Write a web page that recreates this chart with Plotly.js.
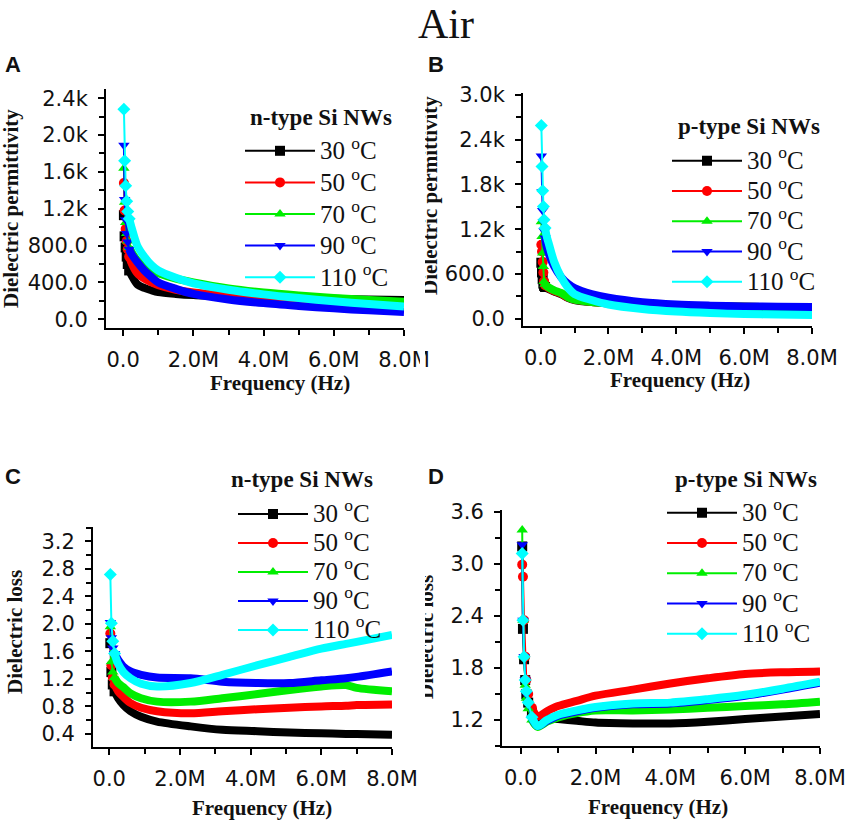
<!DOCTYPE html>
<html>
<head>
<meta charset="utf-8">
<script src="https://cdn.plot.ly/plotly-3.0.1.min.js"></script>
<style>html,body{margin:0;padding:0;background:#fff;}#chart{width:851px;height:823px;}</style>
</head>
<body>
<div id="chart"></div>
<script>
// ---------- data (frequency in Hz) ----------
const seriesNames = ['30 <sup>o</sup>C', '50 <sup>o</sup>C', '70 <sup>o</sup>C', '90 <sup>o</sup>C', '110 <sup>o</sup>C'];
const legendTitles = ['n-type Si NWs', 'p-type Si NWs', 'n-type Si NWs', 'p-type Si NWs'];

// Panel A: n-type, dielectric permittivity
const freqA = [0.02e6, 0.04e6, 0.07e6, 0.1e6, 0.13e6, 0.17e6, 0.25e6, 0.4e6, 0.6e6, 0.8e6, 1.0e6, 1.5e6, 2e6, 3e6, 4e6, 5e6, 6e6, 7e6, 8e6];
const permA_30  = [1130, 900, 780, 680, 600, 530, 470, 380, 340, 315, 295, 275, 262, 248, 238, 230, 222, 215, 210];
const permA_50  = [1480, 1180, 980, 850, 760, 680, 600, 500, 440, 400, 370, 320, 290, 255, 235, 215, 200, 190, 180];
const permA_70  = [1640, 1270, 1050, 930, 850, 780, 720, 640, 570, 530, 500, 440, 400, 335, 290, 258, 232, 210, 190];
const permA_90  = [1890, 1300, 1080, 930, 840, 760, 700, 620, 530, 460, 400, 330, 275, 215, 175, 145, 118, 97, 80];
const permA_110 = [2280, 1720, 1450, 1280, 1170, 1090, 980, 800, 680, 590, 530, 450, 390, 320, 270, 230, 195, 165, 138];

// Panel B: p-type, dielectric permittivity
const freqB = [0.02e6, 0.04e6, 0.06e6, 0.08e6, 0.1e6, 0.13e6, 0.17e6, 0.25e6, 0.4e6, 0.6e6, 0.8e6, 1.0e6, 1.5e6, 2e6, 3e6, 4e6, 5e6, 6e6, 7e6, 8e6];
const permB_30  = [750, 620, 530, 470, 440, 425, 410, 395, 365, 330, 280, 250, 222, 205, 183, 171, 164, 159, 156, 154];
const permB_50  = [990, 900, 760, 620, 500, 450, 430, 405, 370, 335, 285, 255, 225, 208, 185, 172, 165, 160, 157, 155];
const permB_70  = [1300, 1100, 880, 700, 500, 460, 440, 415, 380, 345, 290, 255, 225, 210, 185, 172, 165, 160, 157, 155];
const permB_90  = [2180, 1700, 1450, 1300, 1180, 1080, 980, 860, 700, 560, 470, 410, 330, 280, 220, 190, 175, 165, 160, 158];
const permB_110 = [2590, 2040, 1714, 1503, 1325, 1217, 1120, 990, 760, 560, 420, 330, 250, 190, 130, 95, 75, 62, 55, 50];

// Panel C: n-type, dielectric loss
const freqC = [0.03e6, 0.06e6, 0.1e6, 0.15e6, 0.25e6, 0.4e6, 0.6e6, 0.9e6, 1.35e6, 2.3e6, 3.2e6, 4.2e6, 5.1e6, 6.0e6, 6.7e6, 7.0e6, 8.0e6];
const lossC_30  = [1.72, 1.30, 1.12, 1.02, 0.92, 0.82, 0.73, 0.65, 0.58, 0.51, 0.46, 0.44, 0.42, 0.41, 0.40, 0.40, 0.39];
const lossC_50  = [1.86, 1.40, 1.22, 1.12, 1.02, 0.94, 0.85, 0.78, 0.73, 0.70, 0.73, 0.76, 0.78, 0.80, 0.81, 0.82, 0.83];
const lossC_70  = [1.96, 1.45, 1.30, 1.22, 1.14, 1.08, 0.99, 0.92, 0.87, 0.87, 0.92, 0.98, 1.04, 1.09, 1.11, 1.07, 1.02];
const lossC_90  = [2.02, 1.80, 1.65, 1.57, 1.48, 1.38, 1.31, 1.26, 1.22, 1.21, 1.16, 1.14, 1.14, 1.18, 1.21, 1.23, 1.31];
const lossC_110 = [2.72, 2.01, 1.75, 1.57, 1.42, 1.30, 1.21, 1.13, 1.09, 1.14, 1.26, 1.40, 1.52, 1.64, 1.71, 1.74, 1.84];

// Panel D: p-type, dielectric loss
const freqD = [0.04e6, 0.06e6, 0.09e6, 0.12e6, 0.15e6, 0.2e6, 0.3e6, 0.45e6, 0.7e6, 1.0e6, 1.5e6, 2e6, 3e6, 4e6, 5e6, 6e6, 7e6, 8e6];
const lossD_30  = [3.20, 2.25, 1.90, 1.66, 1.50, 1.40, 1.28, 1.20, 1.22, 1.21, 1.19, 1.17, 1.16, 1.16, 1.18, 1.21, 1.24, 1.27];
const lossD_50  = [2.99, 2.85, 2.35, 1.93, 1.66, 1.50, 1.34, 1.24, 1.30, 1.36, 1.42, 1.48, 1.55, 1.62, 1.68, 1.73, 1.75, 1.76];
const lossD_70  = [3.39, 2.35, 1.93, 1.60, 1.45, 1.33, 1.20, 1.12, 1.18, 1.23, 1.28, 1.31, 1.31, 1.32, 1.34, 1.36, 1.38, 1.41];
const lossD_90  = [3.22, 2.35, 1.93, 1.66, 1.50, 1.38, 1.22, 1.13, 1.19, 1.25, 1.30, 1.34, 1.38, 1.39, 1.43, 1.48, 1.55, 1.63];
const lossD_110 = [3.12, 2.35, 1.93, 1.66, 1.53, 1.40, 1.23, 1.13, 1.20, 1.26, 1.31, 1.35, 1.39, 1.40, 1.44, 1.49, 1.56, 1.64];

// tick labels
const xTickVals = [0, 2e6, 4e6, 6e6, 8e6];
const xTickText = ['0.0', '2.0M', '4.0M', '6.0M', '8.0M'];
const yTickValsA = [0, 400, 800, 1200, 1600, 2000, 2400];
const yTickTextA = ['0.0', '400.0', '800.0', '1.2k', '1.6k', '2.0k', '2.4k'];
const yTickValsB = [0, 600, 1200, 1800, 2400, 3000];
const yTickTextB = ['0.0', '600.0', '1.2k', '1.8k', '2.4k', '3.0k'];
const yTickValsC = [0.4, 0.8, 1.2, 1.6, 2.0, 2.4, 2.8, 3.2];
const yTickTextC = ['0.4', '0.8', '1.2', '1.6', '2.0', '2.4', '2.8', '3.2'];
const yTickValsD = [1.2, 1.8, 2.4, 3.0, 3.6];
const yTickTextD = ['1.2', '1.8', '2.4', '3.0', '3.6'];

// ---------- styling ----------
const W = 851, H = 823;
const px = x => x / W, py = y => 1 - y / H;
const colors = ['#000000', '#ff0000', '#00ee00', '#0000ff', '#00ffff'];
const symbols = ['square', 'circle', 'triangle-up', 'triangle-down', 'diamond'];

const panels = [
  {freq: freqA, data: [permA_30, permA_50, permA_70, permA_90, permA_110], band: 5, xa: 'x', ya: 'y', lg: 'legend'},
  {freq: freqB, data: [permB_30, permB_50, permB_70, permB_90, permB_110], band: 5, xa: 'x2', ya: 'y2', lg: 'legend2'},
  {freq: freqC, data: [lossC_30, lossC_50, lossC_70, lossC_90, lossC_110], band: 3, xa: 'x3', ya: 'y3', lg: 'legend3'},
  {freq: freqD, data: [lossD_30, lossD_50, lossD_70, lossD_90, lossD_110], band: 6, xa: 'x4', ya: 'y4', lg: 'legend4'}
];

const traces = [];
panels.forEach(p => {
  p.data.forEach((vals, i) => {
    traces.push({
      x: p.freq.slice(0, p.band + 1), y: vals.slice(0, p.band + 1),
      mode: 'lines+markers', name: '<span style="font-size:25px">' + seriesNames[i] + '</span>',
      line: {color: colors[i], width: 2},
      marker: {symbol: symbols[i], size: 10, color: colors[i]},
      xaxis: p.xa, yaxis: p.ya, legend: p.lg, hoverinfo: 'skip'
    });
    traces.push({
      x: p.freq.slice(p.band), y: vals.slice(p.band),
      mode: 'lines', showlegend: false,
      line: {color: colors[i], width: 8, shape: 'spline', smoothing: 0.8},
      xaxis: p.xa, yaxis: p.ya, hoverinfo: 'skip'
    });
  });
});

const tickFont = {family: 'DejaVu Sans', size: 21, color: '#111'};
function xAxis(x0, x1, range, anchor) {
  return {
    domain: [px(x0), px(x1)], range: range, anchor: anchor,
    showline: true, linecolor: '#000', linewidth: 2,
    ticks: 'outside', ticklen: 6, tickwidth: 2, tickcolor: '#000',
    tickmode: 'array', tickvals: xTickVals, ticktext: xTickText,
    tickfont: tickFont, ticklabelstandoff: 6,
    showgrid: false, zeroline: false, fixedrange: true,
    minor: {tickmode: 'linear', tick0: 0, dtick: 1e6, ticks: 'outside', ticklen: 5, tickwidth: 2, tickcolor: '#000', showgrid: false}
  };
}
function yAxis(yt, yb, range, anchor, vals, text, minorStep) {
  return {
    domain: [py(yb), py(yt)], range: range, anchor: anchor,
    showline: true, linecolor: '#000', linewidth: 2,
    ticks: 'outside', ticklen: 6, tickwidth: 2, tickcolor: '#000',
    tickmode: 'array', tickvals: vals, ticktext: text,
    tickfont: tickFont, ticklabelstandoff: 6,
    showgrid: false, zeroline: false, fixedrange: true,
    minor: {tickmode: 'linear', tick0: 0, dtick: minorStep, ticks: 'outside', ticklen: 5, tickwidth: 2, tickcolor: '#000', showgrid: false}
  };
}
function legendAt(x, y, rowFont) {
  return {
    x: px(x), y: py(y), xanchor: 'left', yanchor: 'top', xref: 'paper', yref: 'paper',
    bgcolor: 'rgba(0,0,0,0)', borderwidth: 0,
    font: {family: 'Liberation Serif', size: rowFont, color: '#111'},
    itemwidth: 70, traceorder: 'normal', tracegroupgap: 0, itemclick: false, itemdoubleclick: false
  };
}

const serif = 'Liberation Serif';
function ann(text, x, y, size, family, angle) {
  return {text: text, x: px(x), y: py(y), xref: 'paper', yref: 'paper', xanchor: 'center', yanchor: 'middle',
          showarrow: false, textangle: angle || 0, font: {family: family, size: size, color: '#111'}};
}
function titleAnn(text, x, y) {
  return {text: '<b>' + text + '</b>', x: px(x), y: py(y), xref: 'paper', yref: 'paper', xanchor: 'left', yanchor: 'middle',
          showarrow: false, font: {family: serif, size: 23, color: '#111'}};
}
// white covers reproducing the cropping of the original panels
function cover(x0, x1, y0, y1) {
  return {text: ' ', x: px(x0), y: py(y0), xref: 'paper', yref: 'paper', xanchor: 'left', yanchor: 'top',
          width: x1 - x0, height: y1 - y0, bgcolor: '#ffffff', borderpad: 0, borderwidth: 0, showarrow: false};
}

const layout = {
  width: W, height: H, margin: {l: 0, r: 0, t: 0, b: 0},
  paper_bgcolor: '#fff', plot_bgcolor: 'rgba(0,0,0,0)', showlegend: true,
  xaxis:  xAxis(106, 404, [-0.49e6, 8e6], 'y'),
  yaxis:  yAxis(89, 328, [-95, 2500], 'x', yTickValsA, yTickTextA, 200),
  xaxis2: xAxis(523, 812, [-0.52e6, 8e6], 'y2'),
  yaxis2: yAxis(93, 326, [-98, 3025], 'x2', yTickValsB, yTickTextB, 300),
  xaxis3: xAxis(93, 392, [-0.46e6, 8e6], 'y3'),
  yaxis3: yAxis(527, 747, [0.21, 3.41], 'x3', yTickValsC, yTickTextC, 0.2),
  xaxis4: xAxis(502, 820, [-0.5e6, 8e6], 'y4'),
  yaxis4: yAxis(510, 746, [0.90, 3.62], 'x4', yTickValsD, yTickTextD, 0.3),
  legend:  legendAt(240, 130, 22),
  legend2: legendAt(667, 140.5, 21),
  legend3: legendAt(233, 494.5, 20),
  legend4: legendAt(662, 492.5, 21),
  annotations: [
    ann('Air', 446, 24, 42, serif),
    ann('<b>A</b>', 13, 65, 22, 'Liberation Sans'),
    ann('<b>B</b>', 436, 65, 22, 'Liberation Sans'),
    ann('<b>C</b>', 13, 476, 22, 'Liberation Sans'),
    ann('<b>D</b>', 436, 476, 22, 'Liberation Sans'),
    titleAnn(legendTitles[0], 248, 117),
    titleAnn(legendTitles[1], 676, 127),
    titleAnn(legendTitles[2], 229, 480),
    titleAnn(legendTitles[3], 673, 480),
    ann('<b>Frequency (Hz)</b>', 280, 383, 21, serif),
    ann('<b>Frequency (Hz)</b>', 680, 380, 21, serif),
    ann('<b>Frequency (Hz)</b>', 262, 808, 21, serif),
    ann('<b>Frequency (Hz)</b>', 658, 807, 21, serif),
    ann('<b>Dielectric permittivity</b>', 11, 209, 21, serif, -90),
    ann('<b>Dielectric permittivity</b>', 430, 195, 21, serif, -90),
    ann('<b>Dielectric loss</b>', 15, 632, 21, serif, -90),
    ann('<b>Dielectric loss</b>', 426, 637, 21, serif, -90),
    cover(414, 425, 80, 330),
    cover(420, 425, 340, 375),
    cover(414, 425, 560, 720)
  ]
};

Plotly.newPlot('chart', traces, layout, {staticPlot: true, displayModeBar: false});
</script>
</body>
</html>
